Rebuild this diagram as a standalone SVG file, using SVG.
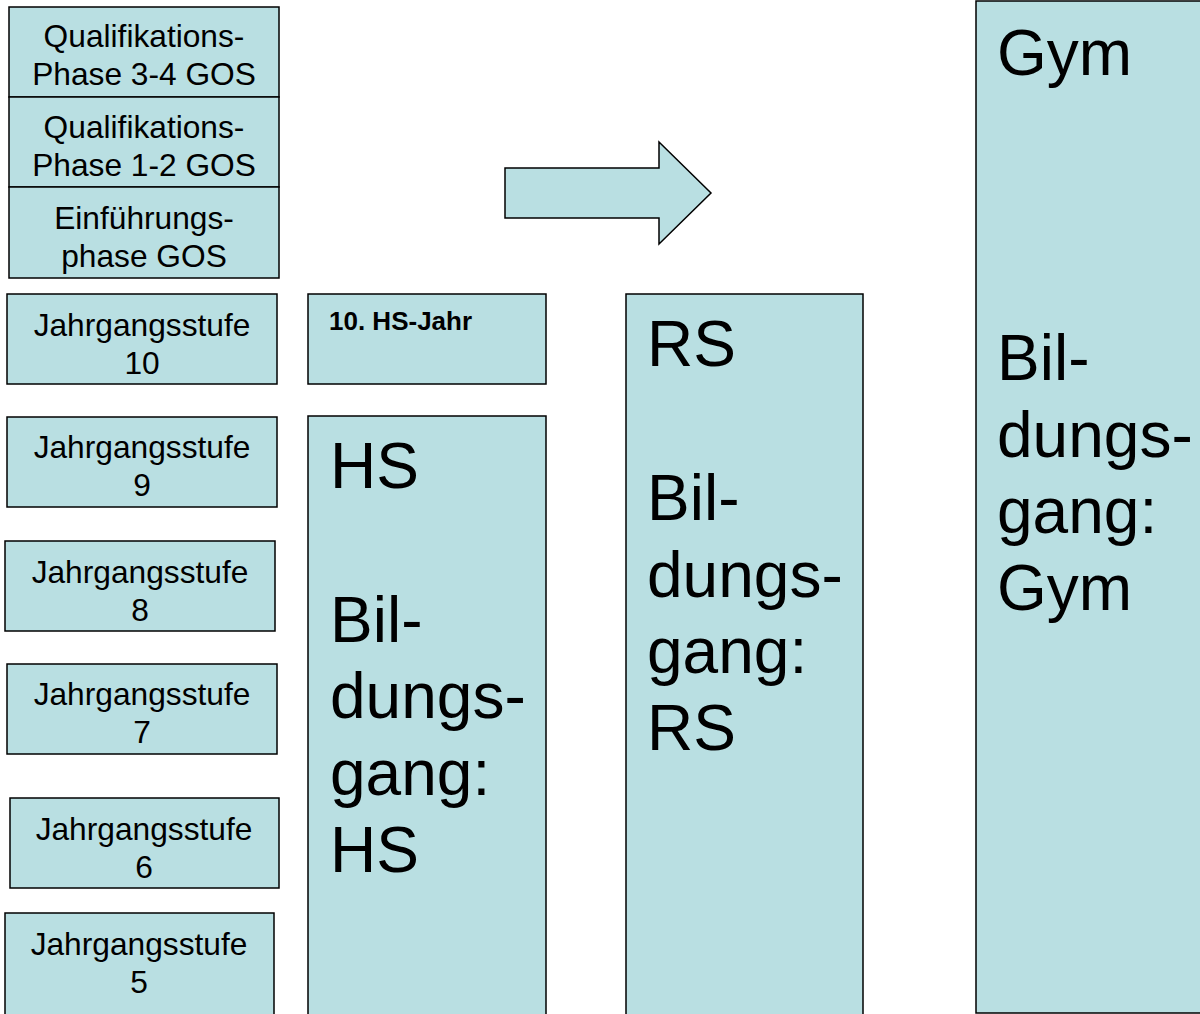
<svg xmlns="http://www.w3.org/2000/svg" width="1200" height="1014" viewBox="0 0 1200 1014">
<style>
.b{fill:#b9dfe2;stroke:#000;stroke-width:1.5}
.s{font-family:"Liberation Sans",Arial,sans-serif;font-size:31.7px;fill:#000;text-anchor:middle}
.L{font-family:"Liberation Sans",Arial,sans-serif;font-size:64px;fill:#000}
.bold{font-family:"Liberation Sans",Arial,sans-serif;font-size:26px;font-weight:bold;fill:#000}
</style>
<rect width="1200" height="1014" fill="#fff"/>
<g id="q34"><rect class="b" x="9" y="7" width="270" height="90"/><text class="s" x="144" y="47">Qualifikations-</text><text class="s" x="144" y="85">Phase 3-4 GOS</text></g>
<g id="q12"><rect class="b" x="9" y="97" width="270" height="90"/><text class="s" x="144" y="138">Qualifikations-</text><text class="s" x="144" y="176">Phase 1-2 GOS</text></g>
<g id="ef"><rect class="b" x="9" y="187" width="270" height="91"/><text class="s" x="144" y="229">Einführungs-</text><text class="s" x="144" y="267">phase GOS</text></g>
<g id="j10"><rect class="b" x="7" y="294" width="270" height="90"/><text class="s" x="142" y="336">Jahrgangsstufe</text><text class="s" x="142" y="374">10</text></g>
<g id="j9"><rect class="b" x="7" y="417" width="270" height="90"/><text class="s" x="142" y="458">Jahrgangsstufe</text><text class="s" x="142" y="496">9</text></g>
<g id="j8"><rect class="b" x="5" y="541" width="270" height="90"/><text class="s" x="140" y="583">Jahrgangsstufe</text><text class="s" x="140" y="621">8</text></g>
<g id="j7"><rect class="b" x="7" y="664" width="270" height="90"/><text class="s" x="142" y="705">Jahrgangsstufe</text><text class="s" x="142" y="743">7</text></g>
<g id="j6"><rect class="b" x="10" y="798" width="269" height="90"/><text class="s" x="144" y="840">Jahrgangsstufe</text><text class="s" x="144" y="878">6</text></g>
<g id="j5"><rect class="b" x="5" y="913" width="269" height="110"/><text class="s" x="139" y="955">Jahrgangsstufe</text><text class="s" x="139" y="993">5</text></g>
<g id="hs10"><rect class="b" x="308" y="294" width="238" height="90"/><text class="bold" x="329" y="330">10. HS-Jahr</text></g>
<g id="hs"><rect class="b" x="308" y="416" width="238" height="610"/><text class="L" x="330" y="488">HS</text><text class="L" x="330" y="642">Bil-</text><text class="L" x="330" y="718">dungs-</text><text class="L" x="330" y="795">gang:</text><text class="L" x="330" y="872">HS</text></g>
<g id="rs"><rect class="b" x="626" y="294" width="237" height="730"/><text class="L" x="647" y="366">RS</text><text class="L" x="647" y="520">Bil-</text><text class="L" x="647" y="597">dungs-</text><text class="L" x="647" y="673">gang:</text><text class="L" x="647" y="750">RS</text></g>
<g id="gym"><rect class="b" x="976" y="1" width="240" height="1012"/><text class="L" x="997" y="75">Gym</text><text class="L" x="997" y="380">Bil-</text><text class="L" x="997" y="457">dungs-</text><text class="L" x="997" y="533">gang:</text><text class="L" x="997" y="610">Gym</text></g>
<g id="connectors"><polygon class="b" points="505,168 659,168 659,142 711,193 659,244 659,218 505,218"/></g>
</svg>
